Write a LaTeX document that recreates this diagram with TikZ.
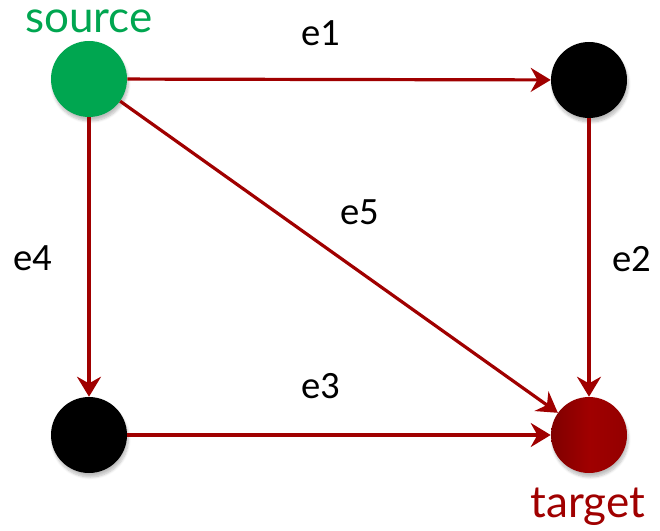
\documentclass[tikz,border=0pt]{standalone}
\usepackage{fontspec}
\setmainfont{Carlito}
\newfontfamily\labelfont{Lato}
\usetikzlibrary{arrows.meta,shadows.blur}
\definecolor{edgered}{RGB}{160,0,0}
\definecolor{srcgreen}{RGB}{0,166,80}

\begin{document}
\begin{tikzpicture}[x=0.75pt,y=-0.75pt]
\tikzstyle{vertex}=[circle,inner sep=0pt,minimum size=57pt,
  blur shadow={shadow xshift=1pt,shadow yshift=-3pt,shadow opacity=25,shadow blur steps=6}]
\tikzstyle{edge}=[draw=edgered,line width=2.4pt,
  -{Stealth[inset=5pt,length=15pt,width=18pt]}]
\tikzstyle{elabel}=[font=\fontsize{29}{32}\selectfont]
\useasboundingbox (0,0) rectangle (660,531);
% vertices
\node [vertex,fill=srcgreen] (s) at (89,79) {};
\node [vertex,fill=black] (a) at (589,80) {};
\node [vertex,fill=black] (b) at (89,435) {};
\node [vertex,left color=red!50!black,right color=red!58!black,middle color=edgered] (t) at (589,435) {};
\node [anchor=base,font=\labelfont\fontsize{33}{36}\selectfont,text=srcgreen] at (89,33) {source};
\node [anchor=base,font=\labelfont\fontsize{33}{36}\selectfont,text=edgered] at (588,517) {target};
% edges
\draw [edge] (s) -- (a);
\draw [edge] (a) -- (t);
\draw [edge] (b) -- (t);
\draw [edge] (s) -- (b);
\draw [edge] (s) -- (t);
\node [elabel] at (321,33) {e1};
\node [elabel] at (632,259) {e2};
\node [elabel] at (321,386) {e3};
\node [elabel] at (33,258) {e4};
\node [elabel] at (360,212) {e5};
\end{tikzpicture}
\end{document}
